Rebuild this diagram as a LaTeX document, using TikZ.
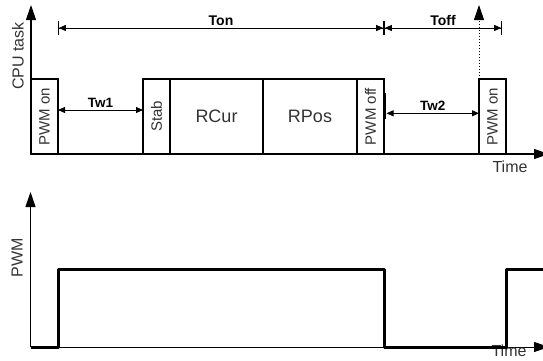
\documentclass[tikz,border=0pt]{standalone}
\usepackage{fontspec}
\setmainfont{Liberation Sans}
\usetikzlibrary{arrows.meta, positioning}
\definecolor{ink}{RGB}{51,51,51}
\tikzset{
  task/.style={rectangle, draw=black, line width=1.2pt,
    inner sep=0pt, outer sep=0pt, minimum height=75pt,
    anchor=south west, text=ink, font=\fontsize{18}{18}\selectfont},
  slim/.style={task, minimum width=27pt, font=\fontsize{15}{15}\selectfont},
  axis/.style={-{Triangle[length=15pt,width=10pt]}, line width=1.2pt},
  dim/.style={line width=0.8pt},
  spanarrow/.style={arrows={Bar[width=14pt]Triangle[length=7pt,width=6pt]-Triangle[length=7pt,width=6pt]Bar[width=14pt]}},
  twoway/.style={arrows={Triangle[length=7pt,width=6pt]-Triangle[length=7pt,width=6pt]}},
  dimlabel/.style={font=\bfseries\fontsize{14}{14}\selectfont, inner sep=2pt},
  axlabel/.style={text=ink, font=\fontsize{16}{16}\selectfont},
  signal/.style={line width=3pt, line join=round}
}

\begin{document}
\begin{tikzpicture}[x=1pt, y=1pt]
\useasboundingbox (0,0) rectangle (543,360);

% CPU task
\coordinate (o1) at (31,206);
\draw[axis] (o1) -- (31,355) coordinate (ytop1);
\draw[axis] (o1) -- (549,206);
\node[axlabel, rotate=90] (cpu) at (18,304) {CPU task};
\node[axlabel] (time1) at (510,193) {Time};

\node[slim] (on1) at (o1) {\rotatebox{90}{PWM on}};
\node[slim] (stab) at (143,206) {\rotatebox{90}{Stab}};
\node[task, minimum width=93pt, right=0pt of stab] (rcur) {RCur};
\node[task, minimum width=94pt, right=0pt of rcur] (rpos) {RPos};
\node[slim, right=0pt of rpos] (off) {\rotatebox{90}{PWM off}};
\node[slim] (on2) at (479,206) {\rotatebox{90}{PWM on}};

\coordinate (dimrow) at (0,332);
\path (on2.east |- dimrow) ++(-4,0) coordinate (toffend);
\draw[dim, spanarrow] (on1.east |- dimrow) -- node[above, dimlabel] (ton) {Ton} (off.east |- dimrow);
\draw[dim, spanarrow] (off.east |- dimrow) -- node[above, dimlabel] (toff) {Toff} (toffend);
\draw[dim, twoway] ([yshift=6.5pt]on1.east) -- node[above, dimlabel, font=\bfseries\fontsize{13.5}{13.5}\selectfont] (tw1) {Tw1} ([yshift=6.5pt]stab.west);
\draw[dim, twoway] ([xshift=2.5pt,yshift=3.2pt]off.east) -- node[above, dimlabel, font=\bfseries\fontsize{13.5}{13.5}\selectfont] (tw2) {Tw2} ([yshift=3.2pt]on2.west);
\draw[dim] ([xshift=1.7pt,yshift=23.5pt]off.east) -- ++(0,-26);
\draw[axis, line width=1pt, dotted] (on2.north west) -- (on2.north west |- ytop1);

% PWM
\coordinate (o2) at (30.5,13);
\draw[axis, line width=1pt] (o2) -- (30.5,168);
\draw[axis, line width=1pt] (o2) -- (549,13);
\node[axlabel, rotate=90] (pwm) at (17,102) {PWM};
\node[axlabel] (time2) at (509,9.5) {Time};

\coordinate (low) at (0,13);
\coordinate (high) at (0,91);
\draw[signal] (o2) -- (on1.east |- low) -- (on1.east |- high) -- (off.east |- high)
  -- (off.east |- low) -- (on2.east |- low) -- (on2.east |- high) -- (543,91);
\end{tikzpicture}
\end{document}
